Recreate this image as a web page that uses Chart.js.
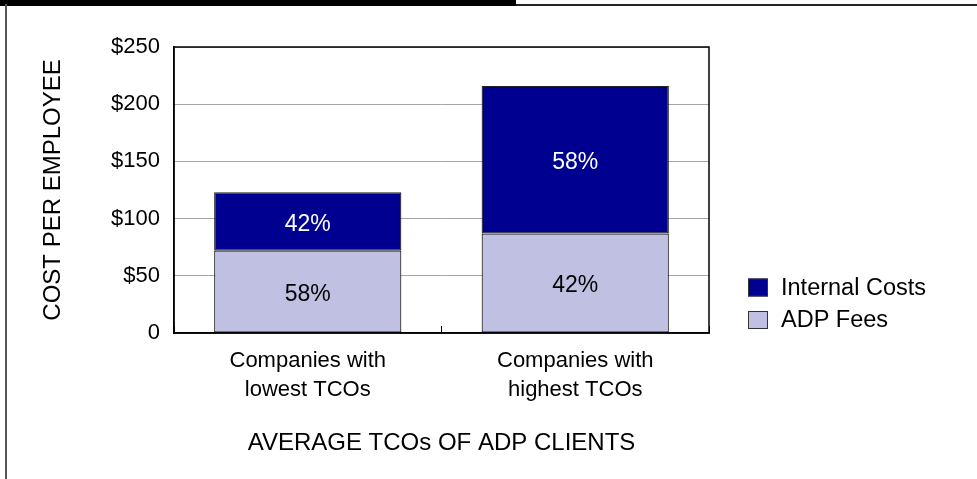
<!DOCTYPE html>
<html>
<head>
<meta charset="utf-8">
<script src="https://cdn.jsdelivr.net/npm/chart.js@4/dist/chart.umd.min.js"></script>
<style>
  html, body { margin: 0; padding: 0; background: #fff; }
  #wrap { position: relative; width: 977px; height: 479px; overflow: hidden; background: #fff; }
  #c { position: absolute; left: 0; top: 0; }
  .deco { position: absolute; }
</style>
</head>
<body>
<div id="wrap">
  <div class="deco" style="left:0;top:0;width:516px;height:6px;background:#000;"></div>
  <div class="deco" style="left:516px;top:4px;width:461px;height:2px;background:#222;"></div>
  <div class="deco" style="left:5px;top:4px;width:2px;height:475px;background:#555;"></div>
  <canvas id="c" width="977" height="479"></canvas>
</div>
<script>
// ---- data ----
const categories = [["Companies with", "lowest TCOs"], ["Companies with", "highest TCOs"]];
const seriesNames = ["ADP Fees", "Internal Costs"];
const adpFees = [72, 87];
const internalCosts = [51, 129];
const adpPctLabels = ["58%", "42%"];
const internalPctLabels = ["42%", "58%"];
const yTickLabels = ["0", "$50", "$100", "$150", "$200", "$250"];
const yTitle = "COST PER EMPLOYEE";
const xTitle = "AVERAGE TCOs OF ADP CLIENTS";

const FONT = '"Liberation Sans", Arial, sans-serif';
Chart.defaults.font.family = FONT;
Chart.defaults.color = '#000';

const pctLabels = [adpPctLabels, internalPctLabels];
const pctColors = ['#000000', '#ffffff'];

const barLabelPlugin = {
  id: 'barLabels',
  afterDatasetsDraw(chart) {
    const ctx = chart.ctx;
    ctx.save();
    ctx.font = '23px ' + FONT;
    ctx.textAlign = 'center';
    ctx.textBaseline = 'middle';
    chart.data.datasets.forEach((ds, i) => {
      const meta = chart.getDatasetMeta(i);
      meta.data.forEach((el, j) => {
        const p = el.getCenterPoint();
        ctx.fillStyle = pctColors[i];
        ctx.fillText(pctLabels[i][j], p.x, p.y + 3);
      });
    });
    ctx.restore();
  }
};

const framePlugin = {
  id: 'frame',
  afterDraw(chart) {
    const a = chart.chartArea;
    const ctx = chart.ctx;
    ctx.save();
    ctx.strokeStyle = '#000';
    ctx.lineWidth = 1.5;
    ctx.strokeRect(a.left, a.top, a.right - a.left, a.bottom - a.top);
    ctx.restore();
  }
};

const legendPlugin = {
  id: 'sideLegend',
  afterDraw(chart) {
    const a = chart.chartArea;
    const ctx = chart.ctx;
    ctx.save();
    ctx.font = '23.5px ' + FONT;
    ctx.textBaseline = 'middle';
    ctx.textAlign = 'left';
    const order = chart.data.datasets.map((d, i) => i).reverse();
    const x = a.right + 39;
    let y = a.bottom - 45.5;
    order.forEach(i => {
      const ds = chart.data.datasets[i];
      ctx.fillStyle = ds.backgroundColor;
      ctx.fillRect(x, y - 9, 20, 18);
      ctx.strokeStyle = '#333';
      ctx.lineWidth = 1;
      ctx.strokeRect(x + 0.5, y - 8.5, 19, 17);
      ctx.fillStyle = '#000';
      ctx.fillText(ds.label, x + 33, y + 1);
      y += 32.5;
    });
    ctx.restore();
  }
};

new Chart(document.getElementById('c'), {
  type: 'bar',
  data: {
    labels: categories,
    datasets: [
      { label: seriesNames[0], data: adpFees, backgroundColor: '#C0C0E2', borderColor: '#222', borderWidth: 1.2, borderSkipped: false },
      { label: seriesNames[1], data: internalCosts, backgroundColor: '#000090', borderColor: '#222', borderWidth: 1.2, borderSkipped: false }
    ]
  },
  options: {
    responsive: false,
    animation: false,
    devicePixelRatio: 1,
    layout: { padding: { left: 35, right: 268, top: 47, bottom: 17.6 } },
    datasets: { bar: { barPercentage: 0.7, categoryPercentage: 1.0 } },
    plugins: { legend: { display: false }, tooltip: { enabled: false } },
    scales: {
      x: {
        stacked: true,
        offset: true,
        grid: { display: true, drawOnChartArea: false, drawTicks: true, tickLength: -7, color: '#000', lineWidth: 1, offset: true },
        border: { display: true, color: '#000', width: 1.5 },
        ticks: { font: { size: 22, lineHeight: 1.33 }, color: '#000', padding: 20, maxRotation: 0, autoSkip: false },
        title: { display: true, text: xTitle, font: { size: 24 }, color: '#000', padding: { top: 24, bottom: 4 } },
        afterFit: s => { s.height = 128.4; }
      },
      y: {
        stacked: true,
        min: 0,
        max: 250,
        ticks: { stepSize: 50, callback: (v, i) => yTickLabels[i], font: { size: 22 }, color: '#000', padding: 14 },
        grid: { color: '#a6a6a6', lineWidth: 1, drawTicks: false },
        border: { display: true, color: '#000', width: 1.5 },
        title: { display: true, text: yTitle, font: { size: 24 }, color: '#000', padding: { top: 4, bottom: 4 } },
        afterFit: s => { s.width = 139; }
      }
    }
  },
  plugins: [barLabelPlugin, framePlugin, legendPlugin]
});
</script>
</body>
</html>
